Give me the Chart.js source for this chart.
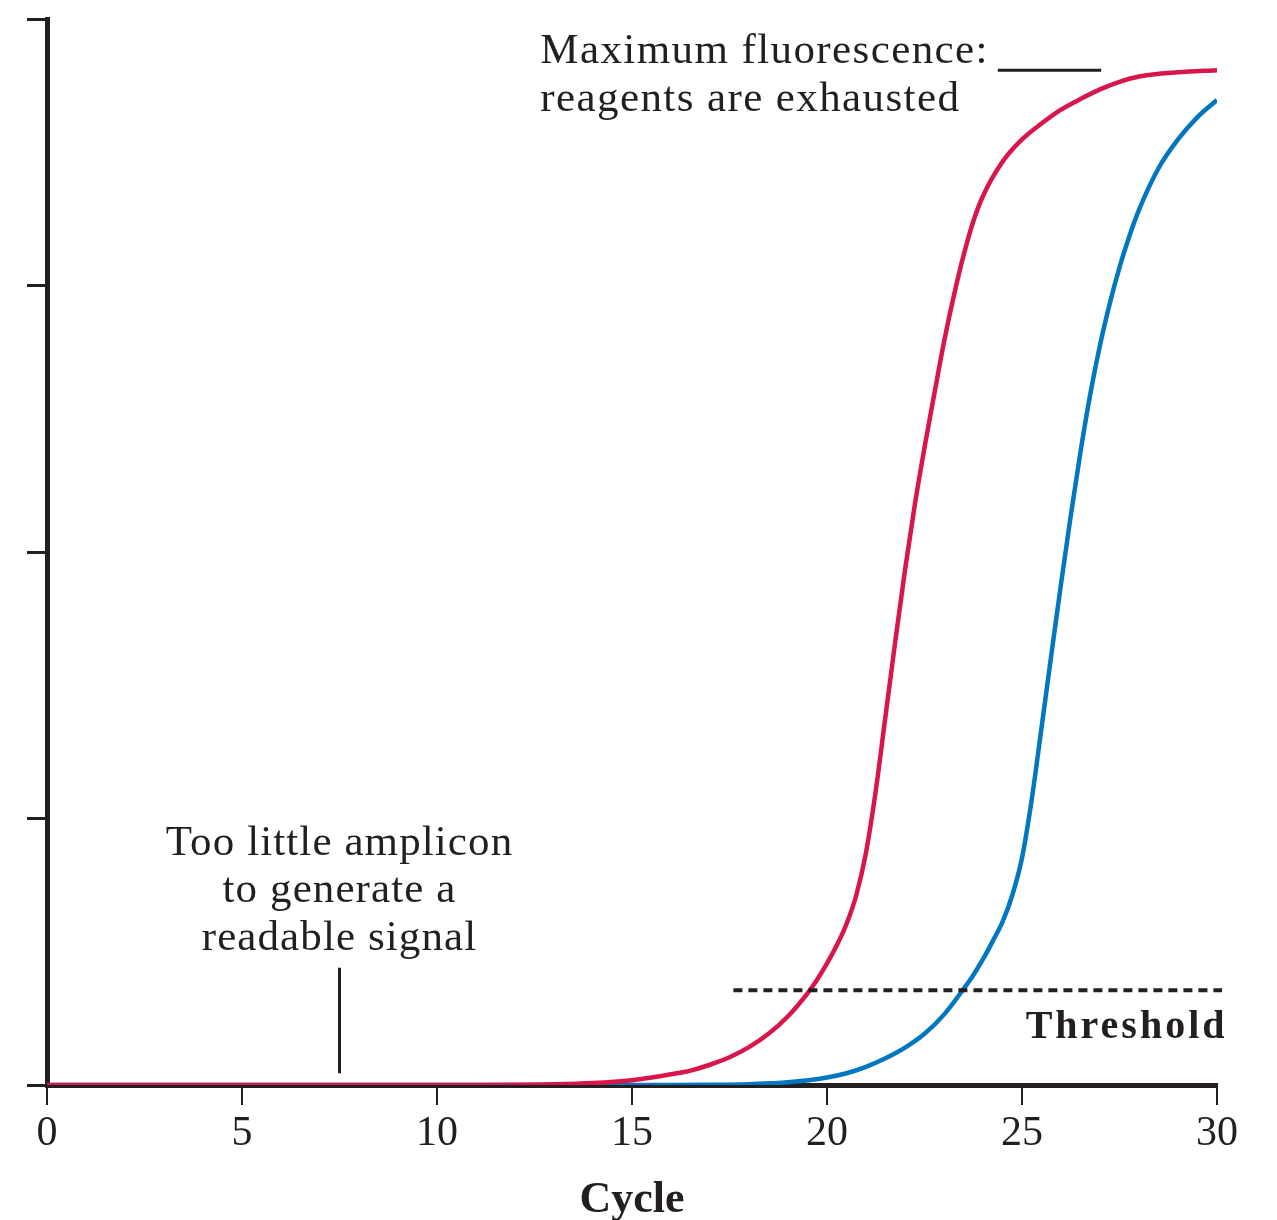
<!DOCTYPE html>
<html>
<head>
<meta charset="utf-8">
<title>Real-time PCR amplification curves</title>
<script src="https://cdn.jsdelivr.net/npm/chart.js@4.4.1/dist/chart.umd.min.js"></script>
<style>
  html, body { margin: 0; padding: 0; background: #ffffff; }
  #wrap { width: 1277px; height: 1220px; }
</style>
</head>
<body>
<div id="wrap"><canvas id="pcr" width="1277" height="1220"></canvas></div>
<script>
// Amplification curves: fluorescence signal (arbitrary units) per PCR cycle
const redCycles  = [0, 11, 12, 13, 14, 15, 15.5, 16, 16.5, 17, 17.5, 18, 18.5, 19, 19.5, 19.75, 20, 20.25, 20.5, 20.75, 21, 21.25, 21.5, 21.75, 22, 22.25, 22.5, 22.75, 23, 23.25, 23.5, 23.75, 24, 24.5, 25, 25.5, 26, 26.5, 27, 27.5, 28, 29, 30];
const redSignal  = [0, 0, 0.02, 0.06, 0.18, 0.45, 0.7, 1.0, 1.35, 1.9, 2.6, 3.55, 4.8, 6.45, 8.6, 9.9, 11.4, 13.1, 15.1, 17.8, 21.8, 27.6, 34.6, 41.6, 48.3, 54.4, 59.8, 64.8, 69.7, 74.0, 77.8, 81.0, 83.4, 86.6, 88.7, 90.2, 91.5, 92.5, 93.4, 94.1, 94.6, 95.0, 95.2];

const blueCycles = [0, 16, 17, 18, 19, 20, 20.5, 21, 21.5, 22, 22.5, 23, 23.5, 23.75, 24, 24.25, 24.5, 24.75, 25, 25.25, 25.5, 25.75, 26, 26.25, 26.5, 26.75, 27, 27.25, 27.5, 27.75, 28, 28.5, 29, 29.5, 30];
const blueSignal = [0, 0, 0.02, 0.08, 0.25, 0.7, 1.1, 1.7, 2.5, 3.5, 4.8, 6.6, 9.0, 10.3, 11.8, 13.5, 15.3, 17.8, 21.3, 26.8, 33.5, 40.3, 47.0, 53.4, 59.4, 64.8, 69.4, 73.3, 76.7, 79.6, 82.1, 86.0, 88.7, 90.8, 92.4];

// Detection threshold and the cycle span its dashed line covers
const thresholdSignal = 8.9;
const thresholdCycles = [17.6, 30.13];

// Leader lines for the two callouts
const plateauLeaderCycles = [24.38, 27.03];
const plateauLeaderSignal = 95.2;
const lowSignalLeaderCycle = 7.5;
const lowSignalLeaderSignal = [1.1, 11.0];

// Axis ticks
const cycleTicks  = [0, 5, 10, 15, 20, 25, 30];
const signalTicks = [0, 25, 50, 75, 100];

const INK  = '#231f20';
const RED  = '#d9164b';
const BLUE = '#0077c0';
const SERIF = '"Liberation Serif", "Times New Roman", serif';

const toPoints = (xs, ys) => xs.map((x, i) => ({ x, y: ys[i] }));

// Callout texts, anchored in data units
const notes = [
  { lines: ['Maximum fluorescence:', 'reagents are exhausted'], x: 12.65, baselines: [95.9, 91.4],
    align: 'left', font: '43px ' + SERIF, spacing: '1.4px' },
  { lines: ['Too little amplicon', 'to generate a', 'readable signal'], x: 7.5, baselines: [21.6, 17.2, 12.7],
    align: 'center', font: '43px ' + SERIF, spacing: '1.1px' },
  { lines: ['Threshold'], x: 30.27, baselines: [4.4],
    align: 'right', font: 'bold 40px ' + SERIF, spacing: '3px' }
];

const notesPlugin = {
  id: 'notes',
  afterDatasetsDraw(chart) {
    const { ctx, scales: { x, y } } = chart;
    ctx.save();
    ctx.fillStyle = INK;
    ctx.textBaseline = 'alphabetic';
    for (const n of notes) {
      ctx.font = n.font;
      ctx.letterSpacing = n.spacing;
      ctx.textAlign = n.align;
      n.lines.forEach((t, i) => {
        ctx.fillText(t, x.getPixelForValue(n.x), y.getPixelForValue(n.baselines[i]));
      });
    }
    ctx.restore();
  }
};

new Chart(document.getElementById('pcr'), {
  type: 'scatter',
  data: {
    datasets: [
      {
        label: 'Threshold',
        data: toPoints(thresholdCycles, [thresholdSignal, thresholdSignal]),
        showLine: true, borderColor: INK, borderWidth: 4, borderDash: [9, 6],
        pointRadius: 0, clip: false
      },
      {
        label: 'Plateau leader',
        data: toPoints(plateauLeaderCycles, [plateauLeaderSignal, plateauLeaderSignal]),
        showLine: true, borderColor: INK, borderWidth: 3, pointRadius: 0
      },
      {
        label: 'Low signal leader',
        data: toPoints([lowSignalLeaderCycle, lowSignalLeaderCycle], lowSignalLeaderSignal),
        showLine: true, borderColor: INK, borderWidth: 3, pointRadius: 0
      },
      {
        label: 'Sample A',
        data: toPoints(redCycles, redSignal),
        showLine: true, borderColor: RED, borderWidth: 4.5, pointRadius: 0,
        cubicInterpolationMode: 'monotone'
      },
      {
        label: 'Sample B',
        data: toPoints(blueCycles, blueSignal),
        showLine: true, borderColor: BLUE, borderWidth: 4.5, pointRadius: 0,
        cubicInterpolationMode: 'monotone'
      }
    ]
  },
  options: {
    responsive: false,
    devicePixelRatio: 1,
    animation: false,
    layout: { padding: { top: 19, right: 60, left: 0, bottom: 0 } },
    plugins: { legend: { display: false }, tooltip: { enabled: false } },
    scales: {
      x: {
        type: 'linear', min: 0, max: 30,
        afterBuildTicks: s => { s.ticks = cycleTicks.map(v => ({ value: v })); },
        afterFit: s => { s.height = 135; },
        border: { display: true, color: INK, width: 5 },
        grid: { display: true, drawOnChartArea: false, drawTicks: true, tickLength: 20, color: INK, lineWidth: 2 },
        ticks: { color: INK, font: { family: SERIF, size: 42 }, padding: 4, maxRotation: 0, autoSkip: false },
        title: { display: true, text: 'Cycle', color: INK,
                 font: { family: SERIF, size: 44, weight: 'bold', lineHeight: 0.9 }, padding: { top: 0, bottom: 0 } }
      },
      y: {
        type: 'linear', min: 0, max: 100,
        afterBuildTicks: s => { s.ticks = signalTicks.map(v => ({ value: v })); },
        afterFit: s => { s.width = 47; },
        border: { display: true, color: INK, width: 5 },
        grid: { display: true, drawOnChartArea: false, drawTicks: true, tickLength: 20, color: INK, lineWidth: 3 },
        ticks: { display: false }
      }
    }
  },
  plugins: [notesPlugin]
});
</script>
</body>
</html>
